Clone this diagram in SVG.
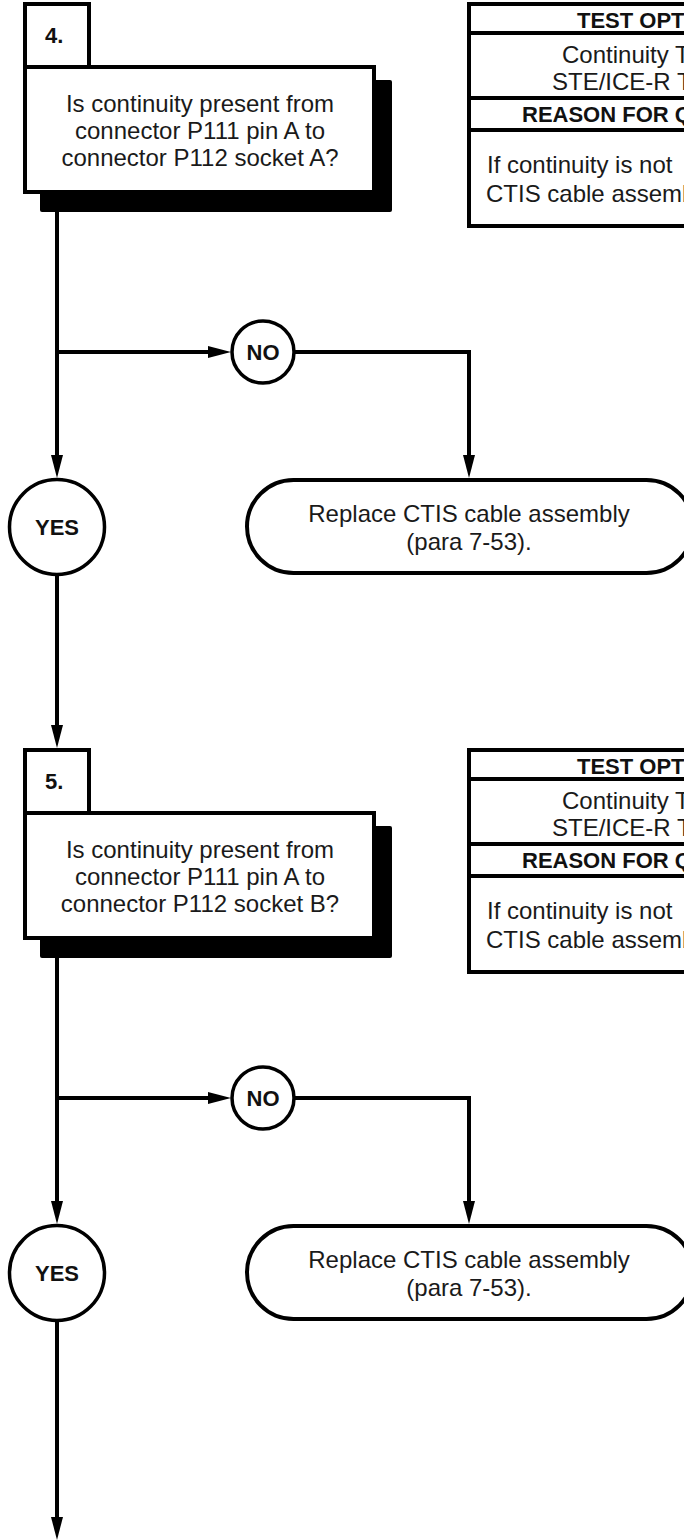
<svg xmlns="http://www.w3.org/2000/svg" width="684" height="1540" viewBox="0 0 684 1540">
<defs>
<style>
.box{fill:#fff;stroke:#000;stroke-width:4}
.shadow{fill:#000}
.ln{fill:none;stroke:#000;stroke-width:4}
.circ{fill:#fff;stroke:#000;stroke-width:3.5}
.t{font-family:"Liberation Sans",Arial,sans-serif;font-size:24px;fill:#1a1a1a}
.c{text-anchor:middle}
.b{font-weight:bold;font-size:22px;fill:#111}
</style>
<marker id="ah" markerUnits="userSpaceOnUse" markerWidth="24" markerHeight="12" refX="11" refY="6" orient="auto">
<path d="M0,0 L23,6 L0,12 z" fill="#000"/>
</marker>
</defs>

<g id="connectors">
<path class="ln" d="M57,194 V466" marker-end="url(#ah)"/>
<path class="ln" d="M57,352 H219" marker-end="url(#ah)"/>
<path class="ln" d="M294,352 H469 V466" marker-end="url(#ah)"/>
<path class="ln" d="M57,575 V736" marker-end="url(#ah)"/>
<path class="ln" d="M57,940 V1212" marker-end="url(#ah)"/>
<path class="ln" d="M57,1098 H219" marker-end="url(#ah)"/>
<path class="ln" d="M294,1098 H469 V1212" marker-end="url(#ah)"/>
<path class="ln" d="M57,1321 V1528" marker-end="url(#ah)"/>
</g>

<g id="step4">
<rect class="shadow" x="40" y="80" width="352" height="132" rx="2"/>
<rect class="box" x="25" y="4" width="64" height="63"/>
<rect class="box" x="25" y="67" width="349" height="125"/>
<text class="t b" x="45" y="43">4.</text>
<text class="t c" x="200" y="112">Is continuity present from</text>
<text class="t c" x="200" y="139">connector P111 pin A to</text>
<text class="t c" x="200" y="166">connector P112 socket A?</text>
</g>

<g id="table4">
<rect class="box" x="469" y="4" width="300" height="222"/>
<line class="ln" x1="469" y1="33" x2="684" y2="33"/>
<line class="ln" x1="469" y1="98" x2="684" y2="98"/>
<line class="ln" x1="469" y1="130" x2="684" y2="130"/>
<text class="t b" x="577" y="28">TEST OPT</text>
<text class="t" x="562" y="63">Continuity T</text>
<text class="t" x="552" y="90">STE/ICE-R T</text>
<text class="t b" x="522" y="122">REASON FOR Q</text>
<text class="t" x="487" y="173">If continuity is not</text>
<text class="t" x="486" y="202">CTIS cable assemb</text>
</g>

<g id="no4">
<circle class="circ" cx="263" cy="352" r="31"/>
<text class="t b c" x="263" y="360">NO</text>
</g>

<g id="yes4">
<circle class="circ" cx="57" cy="527" r="47.5"/>
<text class="t b c" x="57" y="535">YES</text>
</g>

<g id="replace4">
<rect class="box" x="247" y="480" width="446" height="93" rx="46.5"/>
<text class="t c" x="469" y="522">Replace CTIS cable assembly</text>
<text class="t c" x="469" y="550">(para 7-53).</text>
</g>

<g id="step5">
<rect class="shadow" x="40" y="826" width="352" height="132" rx="2"/>
<rect class="box" x="25" y="750" width="64" height="63"/>
<rect class="box" x="25" y="813" width="349" height="125"/>
<text class="t b" x="45" y="789">5.</text>
<text class="t c" x="200" y="858">Is continuity present from</text>
<text class="t c" x="200" y="885">connector P111 pin A to</text>
<text class="t c" x="200" y="912">connector P112 socket B?</text>
</g>

<g id="table5">
<rect class="box" x="469" y="750" width="300" height="222"/>
<line class="ln" x1="469" y1="779" x2="684" y2="779"/>
<line class="ln" x1="469" y1="844" x2="684" y2="844"/>
<line class="ln" x1="469" y1="876" x2="684" y2="876"/>
<text class="t b" x="577" y="774">TEST OPT</text>
<text class="t" x="562" y="809">Continuity T</text>
<text class="t" x="552" y="836">STE/ICE-R T</text>
<text class="t b" x="522" y="868">REASON FOR Q</text>
<text class="t" x="487" y="919">If continuity is not</text>
<text class="t" x="486" y="948">CTIS cable assemb</text>
</g>

<g id="no5">
<circle class="circ" cx="263" cy="1098" r="31"/>
<text class="t b c" x="263" y="1106">NO</text>
</g>

<g id="yes5">
<circle class="circ" cx="57" cy="1273" r="47.5"/>
<text class="t b c" x="57" y="1281">YES</text>
</g>

<g id="replace5">
<rect class="box" x="247" y="1226" width="446" height="93" rx="46.5"/>
<text class="t c" x="469" y="1268">Replace CTIS cable assembly</text>
<text class="t c" x="469" y="1296">(para 7-53).</text>
</g>
</svg>
